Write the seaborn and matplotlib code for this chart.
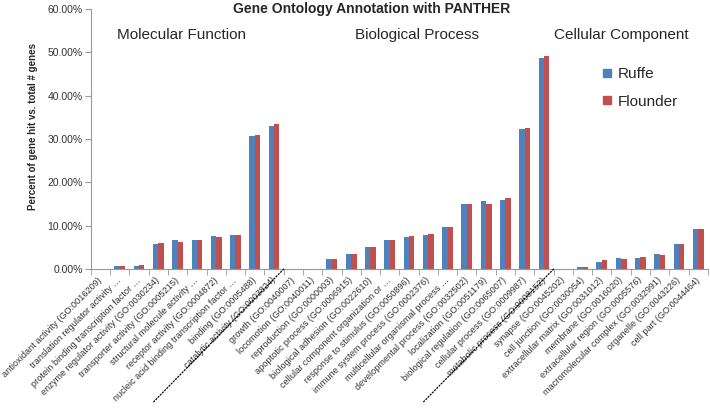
import pandas as pd
import matplotlib.pyplot as plt
import seaborn as sns
from matplotlib.lines import Line2D
from matplotlib.ticker import PercentFormatter, FixedLocator

# GO categories (Molecular Function, Biological Process, Cellular Component)
mf_terms = [
    "antioxidant activity (GO:0016209)",
    "translation regulator activity \u2026",
    "protein binding transcription factor \u2026",
    "enzyme regulator activity (GO:0030234)",
    "transporter activity (GO:0005215)",
    "structural molecule activity \u2026",
    "receptor activity (GO:0004872)",
    "nucleic acid binding transcription factor \u2026",
    "binding (GO:0005488)",
    "catalytic activity (GO:0003824)",
]
bp_terms = [
    "growth (GO:0040007)",
    "locomotion (GO:0040011)",
    "reproduction (GO:0000003)",
    "apoptotic process (GO:0006915)",
    "biological adhesion (GO:0022610)",
    "cellular component organization or \u2026",
    "response to stimulus (GO:0050896)",
    "immune system process (GO:0002376)",
    "multicellular organismal process \u2026",
    "developmental process (GO:0032502)",
    "localization (GO:0051179)",
    "biological regulation (GO:0065007)",
    "cellular process (GO:0009987)",
    "metabolic process (GO:0008152)",
]
cc_terms = [
    "synapse (GO:0045202)",
    "cell junction (GO:0030054)",
    "extracellular matrix (GO:0031012)",
    "membrane (GO:0016020)",
    "extracellular region (GO:0005576)",
    "macromolecular complex (GO:0032991)",
    "organelle (GO:0043226)",
    "cell part (GO:0044464)",
]

# percent of gene hits
ruffe_mf = [0.0, 0.8, 0.8, 5.7, 6.6, 6.7, 7.7, 7.8, 30.7, 32.9]
flounder_mf = [0.0, 0.8, 0.85, 5.9, 6.15, 6.7, 7.45, 7.8, 30.9, 33.5]
ruffe_bp = [0.0, 0.0, 2.4, 3.5, 5.0, 6.7, 7.5, 7.75, 9.6, 15.1, 15.7, 16.0, 32.25, 48.6]
flounder_bp = [0.0, 0.0, 2.4, 3.5, 5.0, 6.75, 7.6, 8.0, 9.6, 15.1, 15.1, 16.35, 32.5, 49.1]
ruffe_cc = [0.0, 0.4, 1.6, 2.45, 2.45, 3.45, 5.75, 9.3]
flounder_cc = [0.0, 0.45, 2.1, 2.4, 2.75, 3.15, 5.75, 9.25]

species = ["Ruffe", "Flounder"]
colors = ["#4F81BD", "#C0504D"]
group_names = ["Molecular Function", "Biological Process", "Cellular Component"]

terms = mf_terms + bp_terms + cc_terms
df = pd.DataFrame({
    "term": terms * 2,
    "species": ["Ruffe"] * len(terms) + ["Flounder"] * len(terms),
    "pct": ruffe_mf + ruffe_bp + ruffe_cc + flounder_mf + flounder_bp + flounder_cc,
})

sns.set_style("white")
plt.rcParams["font.family"] = ["Liberation Sans", "DejaVu Sans"]

fig = plt.figure(figsize=(7.1, 4.12), dpi=100)
ax = fig.add_axes([0.128, 0.347, 0.869, 0.631])

sns.barplot(data=df, x="term", y="pct", hue="species", order=terms,
            hue_order=species, palette=colors, width=0.56, saturation=1,
            linewidth=0, legend=False, ax=ax)

n = len(terms)
ax.set_xlim(-0.5, n - 0.5)
ax.set_ylim(0, 60)
ax.set_yticks(range(0, 61, 10))
ax.yaxis.set_major_formatter(PercentFormatter(xmax=100, decimals=2))
ax.tick_params(axis="y", labelsize=7.5, labelcolor="#333333", length=4,
               color="#999999", pad=2, left=True)

ax.set_xticks(range(n))
ax.set_xticklabels(terms, rotation=45, ha="right", va="center",
                   rotation_mode="anchor", fontsize=6.6, color="#333333")
ax.tick_params(axis="x", which="major", length=0, pad=7)
ax.xaxis.set_minor_locator(FixedLocator([i - 0.5 for i in range(n + 1)]))
ax.tick_params(axis="x", which="minor", length=4, color="#999999",
               bottom=True, direction="out")
ax.set_xlabel("")

ax.set_ylabel("Percent of gene hit vs. total # genes", fontsize=7,
              fontweight="bold")
ax.yaxis.set_label_coords(-0.085, 0.55)

sns.despine(ax=ax)
for side in ["left", "bottom"]:
    ax.spines[side].set_color("#999999")
    ax.spines[side].set_linewidth(0.8)

# group headings
sizes = [len(mf_terms), len(bp_terms), len(cc_terms)]
heading_x = [4.2, 16.4, 27.0]
for name, hx in zip(group_names, heading_x):
    ax.text(hx, 54, name, ha="center", va="center", fontsize=11)

# dotted separators under the tick labels
for b in [sizes[0] - 0.5, sizes[0] + sizes[1] - 0.5]:
    ax.annotate("", xy=(b, 0), xycoords=("data", "axes fraction"),
                xytext=(-95, -97), textcoords="offset points",
                arrowprops=dict(arrowstyle="-", linestyle=(0, (1, 1.5)),
                                color="black", lw=0.9, shrinkA=2, shrinkB=0),
                annotation_clip=False)

handles = [Line2D([], [], marker="s", linestyle="", color=c, markersize=5.5)
           for c in colors]
ax.legend(handles, species, loc="upper left", bbox_to_anchor=(0.80, 0.83),
          frameon=False, fontsize=11, labelspacing=0.9, handletextpad=0.1,
          handlelength=1.2)

fig.text(0.524, 0.978, "Gene Ontology Annotation with PANTHER",
         ha="center", va="center", fontsize=10, fontweight="bold")

fig.savefig("out.png", dpi=100)
